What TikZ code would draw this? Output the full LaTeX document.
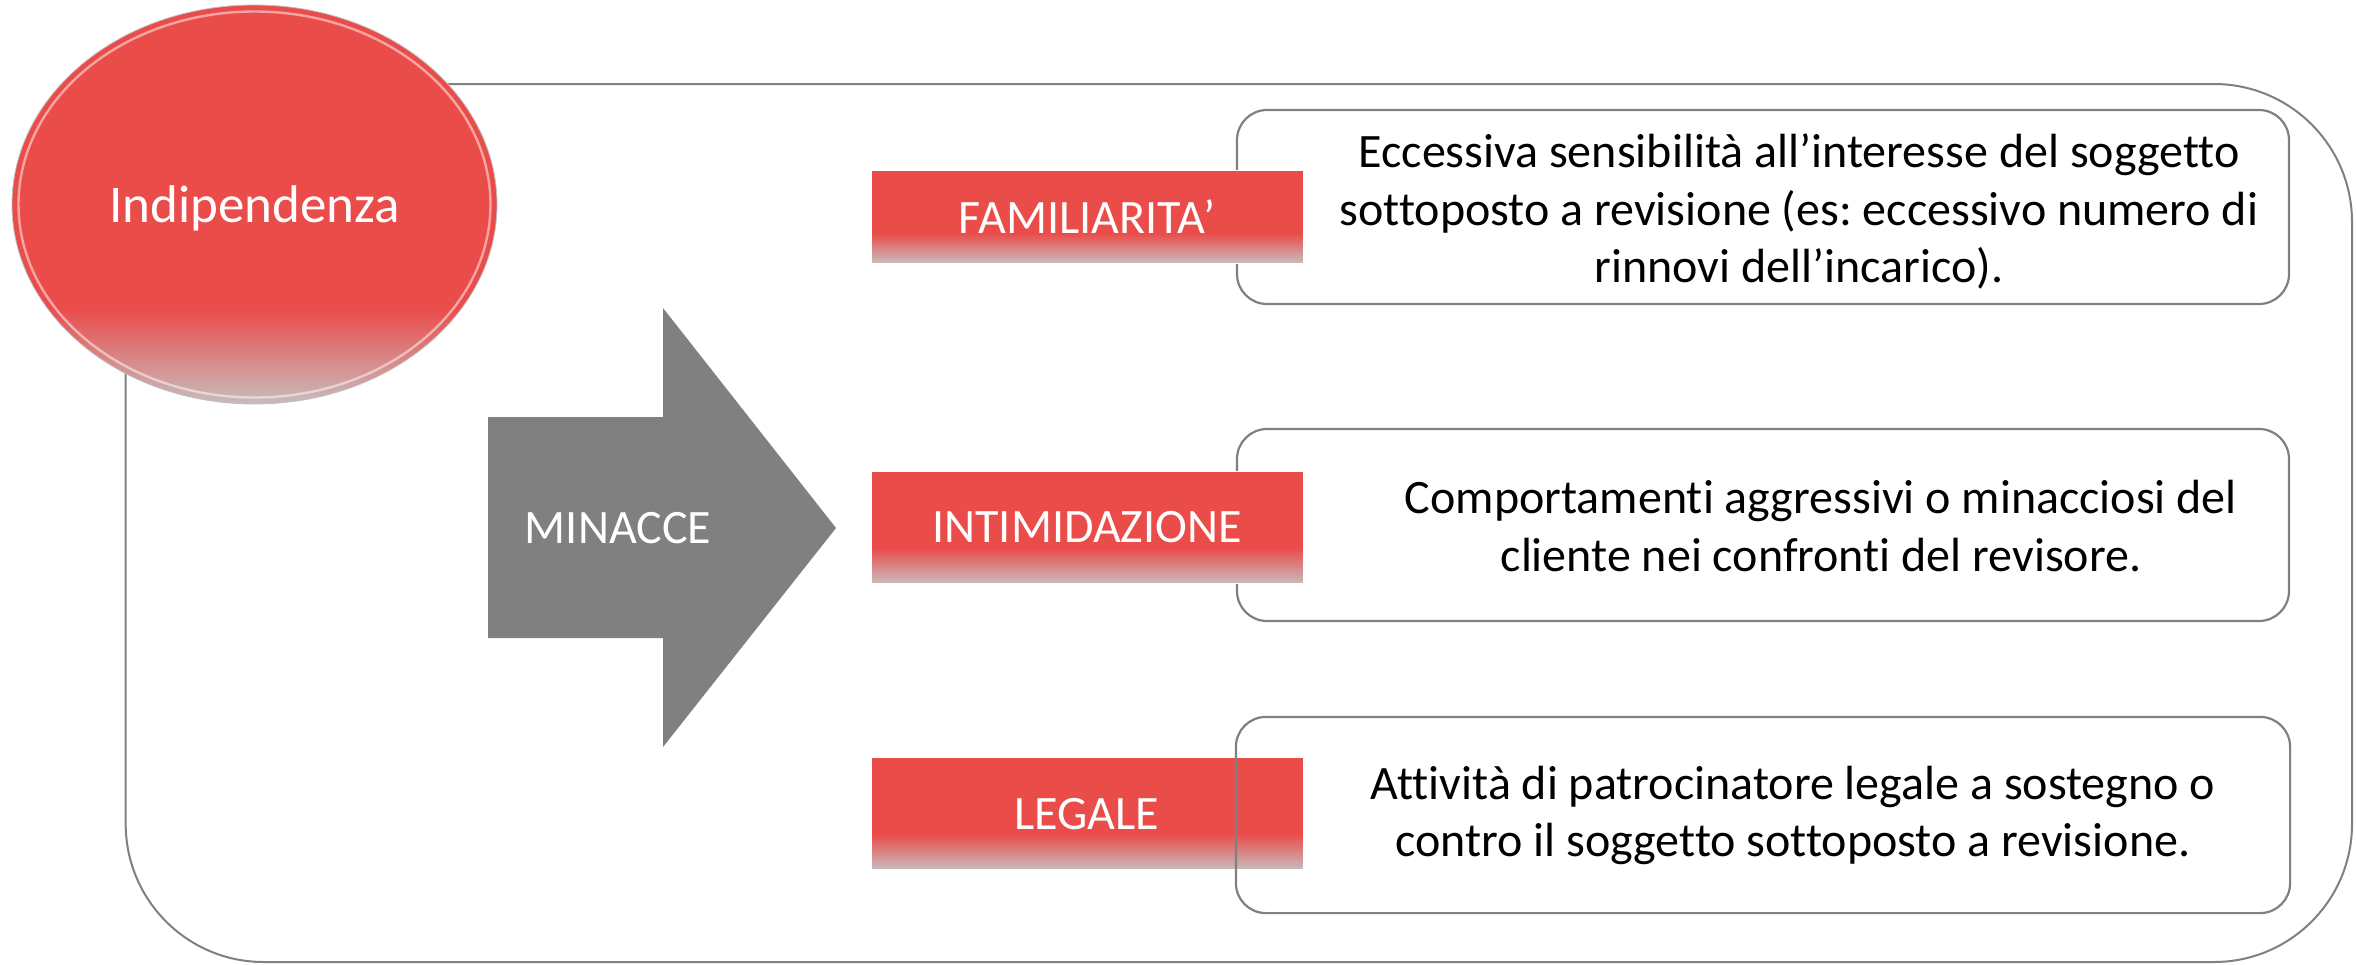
\documentclass[tikz,border=0pt]{standalone}
\usepackage{fontspec}
\setmainfont{Carlito}[Ligatures=NoCommon]
\usetikzlibrary{shapes.geometric}
\definecolor{redc}{RGB}{234,76,74}
\definecolor{fadegray}{RGB}{200,188,188}
\definecolor{linegray}{RGB}{128,128,128}
\pgfdeclareverticalshading{rectfade}{100bp}{color(0bp)=(fadegray); color(25bp)=(fadegray); color(41bp)=(redc); color(100bp)=(redc)}
\pgfdeclareverticalshading{ellfade}{100bp}{color(0bp)=(fadegray); color(25bp)=(fadegray); color(37bp)=(redc); color(100bp)=(redc)}
\tikzset{
  frame/.style={draw=linegray, line width=1pt, rounded corners=69pt},
  whitebox/.style={rectangle, draw=linegray, line width=1.1pt, fill=white, rounded corners=15pt, inner sep=0pt, minimum width=526pt},
  redbox/.style={rectangle, shade, shading=rectfade, draw=white, line width=0.4pt, inner sep=0pt, minimum width=216pt, text=white, font=\fontsize{24}{29}\selectfont},
  boxtext/.style={align=center, inner sep=0pt, font=\fontsize{24}{28.7}\selectfont\frenchspacing, text=black},
}
\begin{document}
\frenchspacing
\begin{tikzpicture}[x=0.5pt, y=-0.5pt]
  \fill[white] (0,0) rectangle (2356,964);
  \useasboundingbox (0,0) rectangle (2356,964);
  % outer frame
  \draw[frame] (125.7,84) rectangle (2352,962);
  % ellipse
  \node[ellipse, shade, shading=ellfade, draw=linegray!50, line width=0.4pt, minimum width=242.5pt, minimum height=199.5pt, inner sep=0pt, text=white, text depth=0pt, font=\fontsize{26.5}{32}\selectfont] (indip) at (254.5,204.5) {Indipendenza};
  \draw[white, opacity=0.5, line width=1.2pt] (indip.center) ellipse [x radius=236, y radius=193];
  % arrow
  \fill[linegray] (488,417) -- (663,417) -- (663,308) -- (836,528) -- (663,747) -- (663,638) -- (488,638) -- cycle;
  \node[inner sep=0pt, text=white, font=\fontsize{24}{29}\selectfont] (minacce) at (618,528) {MINACCE};
  % white boxes
  \node[whitebox, minimum height=97pt] (b1) at (1763,207) {};
  \node[whitebox, minimum height=96pt] (b2) at (1763,525) {};
  \node[whitebox, draw=none, minimum height=97pt] (b3) at (1763,815) {};
  % red labels
  \node[redbox, minimum height=46.5pt] (fam) at (1087,216.5) {FAMILIARITA’};
  \node[redbox, minimum height=56pt] (int) at (1087,527.5) {INTIMIDAZIONE};
  \node[redbox, minimum height=56pt] (leg) at (1087,813.6) {LEGALE};
  \draw[linegray, line width=1.1pt, rounded corners=15pt] (b3.north west) rectangle (b3.south east);
  % texts
  \node[boxtext] (t1) at (1799,213.6) {\strut Eccessiva sensibilità all’interesse del soggetto\\ sottoposto a revisione (es: eccessivo numero di\\ rinnovi dell’incarico).\strut};
  \node[boxtext] (t2) at (1821,531.1) {\strut Comportamenti aggressivi o minacciosi del\\ cliente nei confronti del revisore.\strut};
  \node[boxtext] (t3) at (1793,816.4) {\strut Attività di patrocinatore legale a sostegno o\\ contro il soggetto sottoposto a revisione.\strut};
\end{tikzpicture}
\end{document}
